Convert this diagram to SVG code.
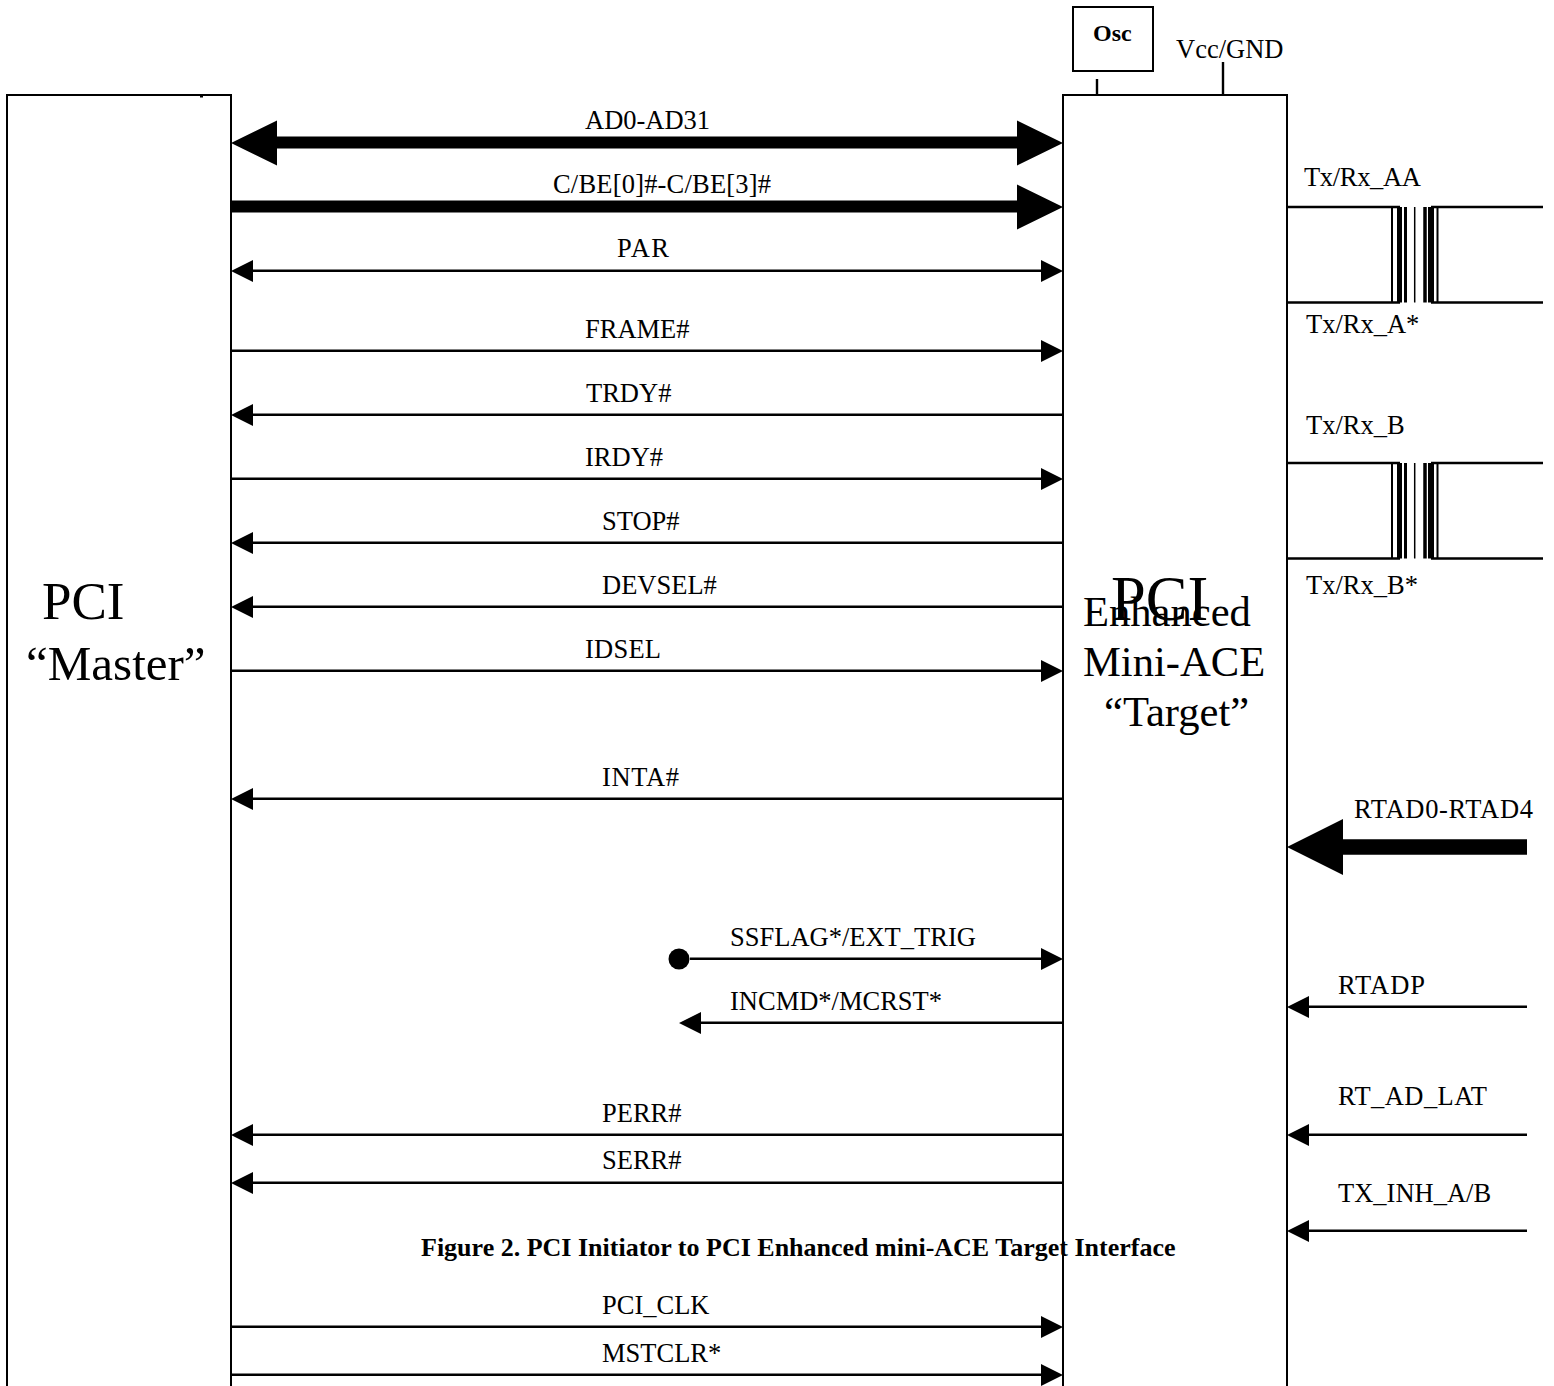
<svg xmlns="http://www.w3.org/2000/svg" width="1554" height="1386" viewBox="0 0 1554 1386">
<style>
text{font-family:"Liberation Serif","Times New Roman",serif;font-size:26.500px;fill:#000}
.big{font-size:53px}
.mast{font-size:49px}
.big2{font-size:62.500px}
.mid{font-size:42.600px}
.b{font-weight:bold;font-size:24px}
.cap{font-weight:bold;font-size:26px}
.box{fill:#fff;stroke:#000;stroke-width:2}
.l{stroke:#000;stroke-width:2.4;fill:none}
.t{stroke:#000;fill:none}
.h{stroke:#000;stroke-width:12;fill:none}
</style>
<rect width="1554" height="1386" fill="#fff"/>
<g id="master"><rect class="box" x="7" y="95" width="224" height="1320"/><rect x="200" y="95" width="3" height="2.500"/>
<text class="big" x="42" y="619">PCI</text><text class="mast" x="26" y="680">“Master”</text></g>
<g id="target"><rect class="box" x="1063" y="95" width="224" height="1320"/>
<text class="big2" x="1111" y="620">PCI</text><text class="mid" x="1083" y="626">Enhanced</text><text class="mid" x="1083" y="676">Mini-ACE</text><text class="mid" x="1104" y="726">“Target”</text></g>
<g id="osc"><rect class="box" x="1073" y="7" width="80" height="64"/><text class="b" x="1093" y="41">Osc</text></g>
<g id="connectors">
<path class="l" d="M1097 79V95M1223 62V95"/>
<path class="h" d="M270 142.500H1020M231 206.500H1020"/>
<path d="M231 143l46-22.500v45zM1063 143l-46-22.500v45zM1063 207l-46-22.500v45z"/>
<path class="h" style="stroke-width:15.500" d="M1527 847H1340"/><path d="M1287 847l56-28v56z"/>
<path class="l" d="M250 270.700H1042M231 350.700H1042M1063 414.700H252M231 478.700H1042M1063 542.700H252M1063 606.700H252M231 670.700H1042M1063 798.700H252M690 958.700H1042M1063 1022.700H700M1063 1134.700H252M1063 1182.700H252M231 1326.700H1042M231 1374.700H1042M1527 1006.700H1308M1527 1134.700H1308M1527 1230.700H1308"/>
<path d="M231 271l22-11v22zM1063 271l-22-11v22zM1063 351l-22-11v22zM231 415l22-11v22zM1063 479l-22-11v22zM231 543l22-11v22zM231 607l22-11v22zM1063 671l-22-11v22zM231 799l22-11v22zM1063 959l-22-11v22zM679 1023l22-11v22zM231 1135l22-11v22zM231 1183l22-11v22zM1063 1327l-22-11v22zM1063 1375l-22-11v22zM1287 1007l22-11v22zM1287 1135l22-11v22zM1287 1231l22-11v22z"/>
<circle cx="679" cy="959" r="10.500"/>
<g id="xfmrA"><path class="l" d="M1287 207H1400M1287 302.500H1400M1431 207H1543M1431 302.500H1543"/>
<path class="t" stroke-width="2" d="M1392 207V302.500M1437.500 207V302.500"/><path class="t" stroke-width="5" d="M1399.500 207V302.500"/><path class="t" stroke-width="3" d="M1405.500 207V302.500"/><path class="t" stroke-width="1.500" d="M1414.700 207V302.500"/><path class="t" stroke-width="3.500" d="M1425 207V302.500"/><path class="t" stroke-width="6" d="M1431 207V302.500"/></g>
<g id="xfmrB"><path class="l" d="M1287 463H1400M1287 558.500H1400M1431 463H1543M1431 558.500H1543"/>
<path class="t" stroke-width="2" d="M1392 463V558.500M1437.500 463V558.500"/><path class="t" stroke-width="5" d="M1399.500 463V558.500"/><path class="t" stroke-width="3" d="M1405.500 463V558.500"/><path class="t" stroke-width="1.500" d="M1414.700 463V558.500"/><path class="t" stroke-width="3.500" d="M1425 463V558.500"/><path class="t" stroke-width="6" d="M1431 463V558.500"/></g>
</g>
<g id="labels">
<text x="585" y="128.700">AD0-AD31</text><text x="553" y="192.700" textLength="218">C/BE[0]#-C/BE[3]#</text><text x="617" y="256.700" textLength="52">PAR</text><text x="585" y="337.700">FRAME#</text><text x="586" y="401.700">TRDY#</text><text x="585" y="465.700">IRDY#</text><text x="602" y="529.700">STOP#</text><text x="602" y="593.700">DEVSEL#</text><text x="585" y="657.700" textLength="76">IDSEL</text><text x="602" y="785.700" textLength="77">INTA#</text><text x="730" y="945.700">SSFLAG*/EXT_TRIG</text><text x="730" y="1009.700">INCMD*/MCRST*</text><text x="602" y="1121.700">PERR#</text><text x="602" y="1168.700">SERR#</text><text x="602" y="1313.700">PCI_CLK</text><text x="602" y="1361.700">MSTCLR*</text>
<text x="1176" y="57.700">Vcc/GND</text><text x="1304" y="185.700" textLength="117">Tx/Rx_AA</text><text x="1306" y="332.700">Tx/Rx_A*</text><text x="1306" y="433.700">Tx/Rx_B</text><text x="1306" y="593.700">Tx/Rx_B*</text><text x="1354" y="817.700" textLength="179">RTAD0-RTAD4</text><text x="1338" y="993.700" textLength="87">RTADP</text><text x="1338" y="1104.700" textLength="149">RT_AD_LAT</text><text x="1338" y="1201.700">TX_INH_A/B</text>
<text class="cap" x="421" y="1256">Figure 2. PCI Initiator to PCI Enhanced mini-ACE Target Interface</text>
</g>
</svg>
